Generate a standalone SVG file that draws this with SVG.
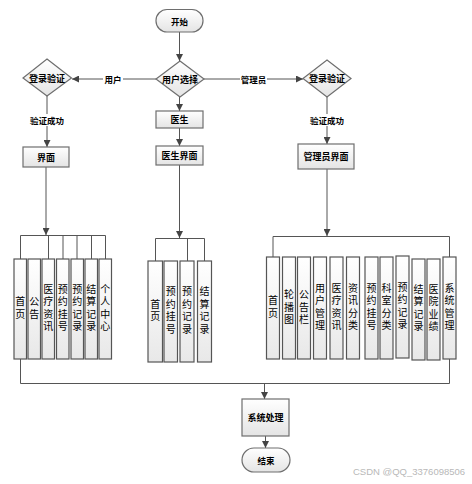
<svg xmlns="http://www.w3.org/2000/svg" width="472" height="484" viewBox="0 0 472 484">
<defs>
<linearGradient id="g" x1="0" y1="0" x2="0" y2="1"><stop offset="0" stop-color="#ffffff"/><stop offset="1" stop-color="#e4e4e4"/></linearGradient>
<linearGradient id="gc" x1="0" y1="0" x2="0" y2="1"><stop offset="0" stop-color="#ffffff"/><stop offset="1" stop-color="#e8e8e8"/></linearGradient>
<marker id="ah" viewBox="0 0 8 8" refX="8" refY="4" markerWidth="7" markerHeight="7" markerUnits="userSpaceOnUse" orient="auto"><path d="M0,0 L8,4 L0,8 z" fill="#444"/></marker>
</defs>
<style>
.box{fill:url(#g);stroke:#6e6e6e;stroke-width:1.2}
.col{fill:url(#gc);stroke:#555;stroke-width:1.2}
.ln{fill:none;stroke:#555;stroke-width:1}
.t{font-family:"Noto Sans CJK SC","Liberation Sans",sans-serif;font-size:9px;font-weight:bold;fill:#000;text-anchor:middle;dominant-baseline:central}
.lb{font-family:"Noto Sans CJK SC","Liberation Sans",sans-serif;font-size:8.5px;font-weight:bold;fill:#000;text-anchor:middle;dominant-baseline:central}
.v{font-family:"Noto Sans CJK SC","Liberation Sans",sans-serif;font-size:10px;fill:#000;text-anchor:middle;writing-mode:vertical-rl;letter-spacing:2.5px}
.wm{font-family:"Liberation Sans",sans-serif;font-size:9.5px;fill:#b8b8b8}
</style>
<rect width="472" height="484" fill="#fff"/>
<g id="connectors">
<line class="ln" x1="179.5" y1="32" x2="179.5" y2="61" marker-end="url(#ah)"/>
<line class="ln" x1="156" y1="79" x2="72" y2="79" marker-end="url(#ah)"/>
<line class="ln" x1="204" y1="79" x2="303" y2="79" marker-end="url(#ah)"/>
<line class="ln" x1="179.5" y1="97" x2="179.5" y2="111" marker-end="url(#ah)"/>
<line class="ln" x1="179.5" y1="128" x2="179.5" y2="146" marker-end="url(#ah)"/>
<line class="ln" x1="47" y1="96" x2="47" y2="147" marker-end="url(#ah)"/>
<line class="ln" x1="327" y1="97" x2="327" y2="144" marker-end="url(#ah)"/>
<line class="ln" x1="46" y1="167" x2="46" y2="235" marker-end="url(#ah)"/>
<line class="ln" x1="179.5" y1="165" x2="179.5" y2="238" marker-end="url(#ah)"/>
<line class="ln" x1="327" y1="169" x2="327" y2="236" marker-end="url(#ah)"/>
<path class="ln" d="M20.5,259 V235.5 H105.5 V259 M48.5,235.5 V259 M63,235.5 V259 M77,235.5 V259 M91.5,235.5 V259"/>
<path class="ln" d="M155.5,261 V238.5 H204.5 V261 M187.5,238.5 V261"/>
<path class="ln" d="M273,257 V236.5 H449.5 V257"/>
<path class="ln" d="M20.5,359 V383.5 H449.5 V359"/>
<line class="ln" x1="264.5" y1="383.5" x2="264.5" y2="399" marker-end="url(#ah)"/>
<line class="ln" x1="265.5" y1="436" x2="265.5" y2="448" marker-end="url(#ah)"/>
<rect x="103" y="73" width="20" height="12" fill="#fff"/>
<text class="lb" x="113" y="78.5">用户</text>
<rect x="240" y="73" width="27" height="12" fill="#fff"/>
<text class="lb" x="253.5" y="78.5">管理员</text>
<rect x="28" y="114" width="38" height="12" fill="#fff"/>
<text class="lb" x="47" y="120">验证成功</text>
<rect x="308" y="114" width="38" height="12" fill="#fff"/>
<text class="lb" x="327" y="120">验证成功</text>
</g>
<g id="start"><rect class="box" x="156" y="9.5" width="47" height="22.5" rx="11"/><text class="t" x="179.5" y="21" style="font-size:8.5px">开始</text></g>
<g id="choose"><polygon class="box" points="180,61 204,79 180,97 156,79"/><text class="t" x="180" y="79">用户选择</text></g>
<g id="login-user"><polygon class="box" points="47,59 71.5,78 47,96 23,78"/><text class="t" x="47" y="78">登录验证</text></g>
<g id="login-admin"><polygon class="box" points="327,60 351,78.5 327,97 303,78.5"/><text class="t" x="327" y="78.5">登录验证</text></g>
<g id="doctor"><rect class="box" x="156" y="111" width="47" height="17"/><text class="t" x="179.5" y="119.5">医生</text></g>
<g id="doctor-ui"><rect class="box" x="156" y="146" width="47" height="19"/><text class="t" x="179.5" y="155.5">医生界面</text></g>
<g id="user-ui"><rect class="box" x="23" y="147" width="46" height="20"/><text class="t" x="46" y="157">界面</text></g>
<g id="admin-ui"><rect class="box" x="298" y="144" width="56" height="25"/><text class="t" x="326" y="156.5">管理员界面</text></g>
<g id="user-cols">
<rect class="col" x="14" y="259" width="12.5" height="100"/><text class="v" x="20.3" y="309">首页</text>
<rect class="col" x="28" y="259" width="12.5" height="100"/><text class="v" x="34.3" y="309">公告</text>
<rect class="col" x="42" y="259" width="12.5" height="100"/><text class="v" x="48.3" y="309">医疗资讯</text>
<rect class="col" x="56.5" y="259" width="12.5" height="100"/><text class="v" x="62.8" y="309">预约挂号</text>
<rect class="col" x="71" y="259" width="12.5" height="100"/><text class="v" x="77.3" y="309">预约记录</text>
<rect class="col" x="85" y="259" width="12.5" height="100"/><text class="v" x="91.3" y="309">结算记录</text>
<rect class="col" x="99" y="259" width="12.5" height="100"/><text class="v" x="105.3" y="309">个人中心</text>
</g>
<g id="doctor-cols">
<rect class="col" x="148" y="261" width="14.5" height="101"/><text class="v" x="155.3" y="311.5">首页</text>
<rect class="col" x="164" y="261" width="13.5" height="101"/><text class="v" x="170.8" y="311.5">预约挂号</text>
<rect class="col" x="180" y="261" width="14" height="101"/><text class="v" x="187" y="311.5">预约记录</text>
<rect class="col" x="197.5" y="261" width="14" height="101"/><text class="v" x="204.5" y="311.5">结算记录</text>
</g>
<g id="admin-cols">
<rect class="col" x="266.5" y="257" width="13" height="102"/><text class="v" x="273" y="308">首页</text>
<rect class="col" x="282.5" y="257" width="13" height="102"/><text class="v" x="289" y="308">轮播图</text>
<rect class="col" x="297.5" y="257" width="13" height="102"/><text class="v" x="304" y="308">公告栏</text>
<rect class="col" x="313.5" y="257" width="13" height="102"/><text class="v" x="320" y="308">用户管理</text>
<rect class="col" x="330" y="257" width="13" height="102"/><text class="v" x="336.5" y="308">医疗资讯</text>
<rect class="col" x="346.5" y="257" width="13" height="102"/><text class="v" x="353" y="308">资讯分类</text>
<rect class="col" x="365" y="257" width="13" height="102"/><text class="v" x="371.5" y="308">预约挂号</text>
<rect class="col" x="380" y="257" width="13" height="102"/><text class="v" x="386.5" y="308">科室分类</text>
<rect class="col" x="396" y="256" width="13" height="102"/><text class="v" x="402.5" y="307">预约记录</text>
<rect class="col" x="412" y="259" width="13" height="101"/><text class="v" x="418.5" y="309">结算记录</text>
<rect class="col" x="427" y="259" width="13" height="101"/><text class="v" x="433.5" y="309">医院业绩</text>
<rect class="col" x="443" y="257" width="13" height="102"/><text class="v" x="449.5" y="308">系统管理</text>
</g>
<g id="process"><rect class="box" x="242" y="399" width="47" height="37"/><text class="t" x="265.5" y="417.5">系统处理</text></g>
<g id="end"><rect class="box" x="242" y="448" width="48" height="24" rx="12"/><text class="t" x="266" y="460" style="font-size:8.5px">结束</text></g>
<text class="wm" x="353" y="475">CSDN @QQ_3376098506</text>
</svg>
